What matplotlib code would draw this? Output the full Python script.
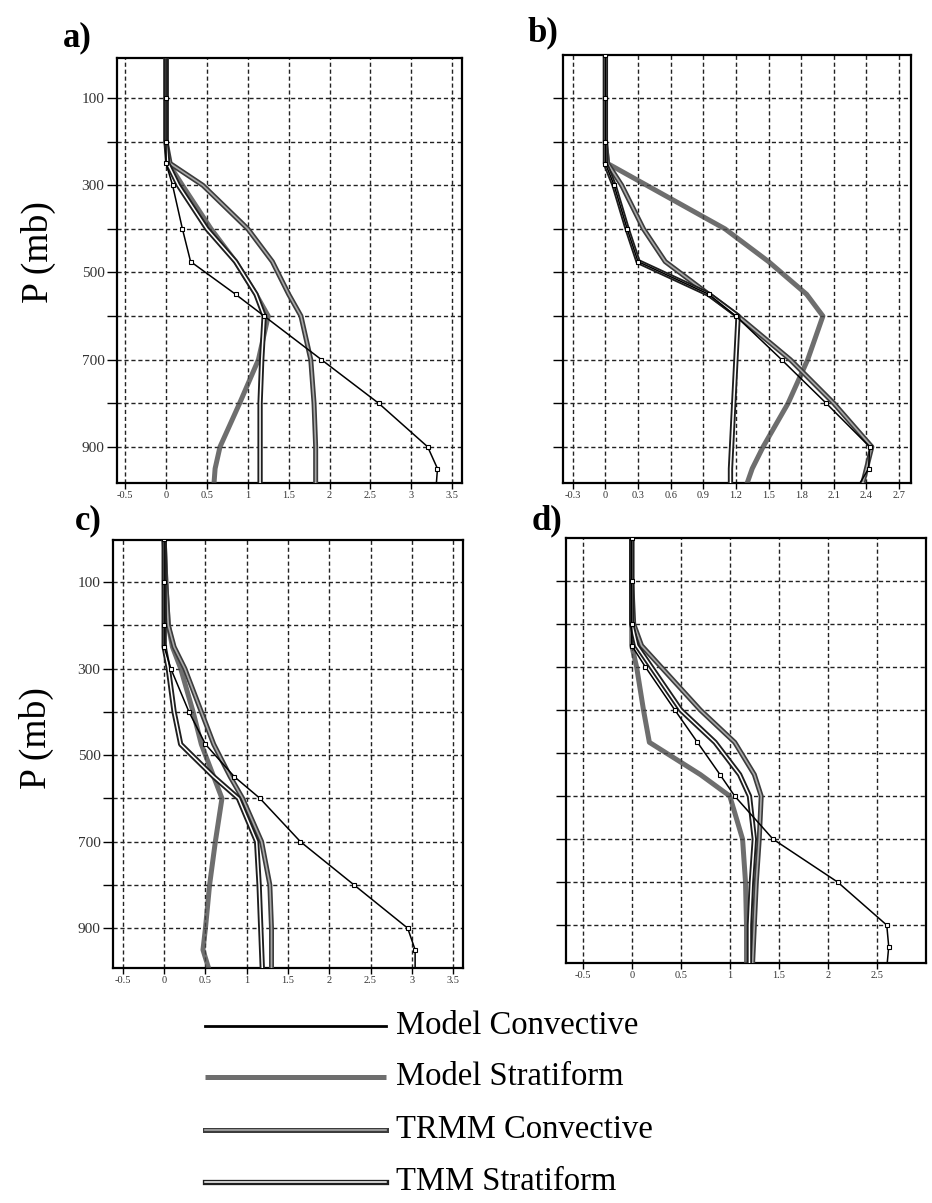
import matplotlib
matplotlib.use('Agg')
import matplotlib.pyplot as plt
import matplotlib.patheffects as pe

plt.rcParams['font.family'] = ['Liberation Serif', 'DejaVu Serif']

# Уровни давления (мб), общие для всех профилей
p_levels = [0, 100, 200, 250, 300, 400, 475, 550, 600, 700, 800, 900, 950, 1000]

# Панель a)
a_model_conv = [0, 0, 0, 0, 0.08, 0.2, 0.3, 0.85, 1.2, 1.9, 2.6, 3.2, 3.32, 3.3]
a_model_strat = [0, 0, 0, 0.03, 0.2, 0.55, 0.85, 1.1, 1.25, 1.13, 0.9, 0.66, 0.6, 0.58]
a_trmm_conv = [0, 0, 0, 0.05, 0.45, 1.0, 1.3, 1.5, 1.65, 1.77, 1.81, 1.83, 1.83, 1.83]
a_trmm_strat = [0, 0, 0, 0.02, 0.15, 0.5, 0.85, 1.1, 1.2, 1.17, 1.15, 1.15, 1.15, 1.15]

# Панель b)
b_model_conv = [0, 0, 0, 0, 0.08, 0.2, 0.3, 0.95, 1.2, 1.62, 2.03, 2.43, 2.42, 2.3]
b_model_strat = [0, 0, 0, 0.02, 0.38, 1.1, 1.5, 1.85, 2.0, 1.86, 1.68, 1.45, 1.35, 1.28]
b_trmm_conv = [0, 0, 0, 0.02, 0.15, 0.35, 0.55, 0.95, 1.22, 1.7, 2.1, 2.45, 2.4, 2.35]
b_trmm_strat = [0, 0, 0, 0, 0.08, 0.2, 0.3, 0.95, 1.22, 1.2, 1.18, 1.16, 1.15, 1.15]

# Панель c)
c_model_conv = [0, 0, 0, 0, 0.08, 0.3, 0.5, 0.85, 1.16, 1.65, 2.3, 2.95, 3.04, 3.04]
c_model_strat = [0, 0.02, 0.05, 0.1, 0.2, 0.35, 0.45, 0.6, 0.7, 0.62, 0.55, 0.5, 0.47, 0.55]
c_trmm_conv = [0, 0.02, 0.05, 0.12, 0.25, 0.45, 0.6, 0.8, 0.95, 1.18, 1.28, 1.3, 1.3, 1.3]
c_trmm_strat = [0, 0, 0, 0, 0.05, 0.12, 0.2, 0.6, 0.9, 1.12, 1.15, 1.17, 1.18, 1.19]

# Панель d)
d_model_conv = [0, 0, 0, 0, 0.14, 0.44, 0.67, 0.9, 1.05, 1.44, 2.1, 2.6, 2.62, 2.6]
d_model_strat = [0, 0, 0, 0, 0.05, 0.12, 0.18, 0.7, 1.0, 1.13, 1.16, 1.17, 1.17, 1.17]
d_trmm_conv = [0, 0, 0.02, 0.1, 0.3, 0.7, 1.05, 1.25, 1.32, 1.3, 1.27, 1.25, 1.24, 1.23]
d_trmm_strat = [0, 0, 0, 0.05, 0.2, 0.5, 0.85, 1.1, 1.2, 1.25, 1.22, 1.2, 1.2, 1.2]

# Подписи осей
ticks_ac = [-0.5, 0, 0.5, 1, 1.5, 2, 2.5, 3, 3.5]
labels_ac = ['-0.5', '0', '0.5', '1', '1.5', '2', '2.5', '3', '3.5']
ticks_b = [-0.3, 0, 0.3, 0.6, 0.9, 1.2, 1.5, 1.8, 2.1, 2.4, 2.7]
labels_b = ['-0.3', '0', '0.3', '0.6', '0.9', '1.2', '1.5', '1.8', '2.1', '2.4', '2.7']
ticks_d = [-0.5, 0, 0.5, 1, 1.5, 2, 2.5]
labels_d = ['-0.5', '0', '0.5', '1', '1.5', '2', '2.5']
p_ticks = [100, 200, 300, 400, 500, 600, 700, 800, 900]
p_labels = ['100', '', '300', '', '500', '', '700', '', '900']

legend_names = ['Model Convective', 'Model Stratiform', 'TRMM Convective', 'TMM Stratiform']


def style(kind):
    if kind == 0:
        return dict(color='black', lw=1.1, marker='s', ms=3, mfc='white', mec='black', mew=0.8, zorder=6)
    if kind == 1:
        return dict(color='#4a4a4a', lw=3.6, alpha=0.8, solid_capstyle='butt', zorder=4)
    if kind == 2:
        return dict(color='#a8a8a8', lw=1.2, zorder=5,
                    path_effects=[pe.Stroke(linewidth=3.6, foreground='#3c3c3c'), pe.Normal()])
    return dict(color='white', lw=1.1, zorder=5,
                path_effects=[pe.Stroke(linewidth=3.8, foreground='#1e1e1e'), pe.Normal()])


def draw_panel(ax, series, xlim, ylim, xticks, xlabels, show_p):
    for i, xs in enumerate(series):
        ax.plot(xs, p_levels, **style(i))
    ax.set_xlim(*xlim)
    ax.set_ylim(*ylim)
    ax.set_xticks(xticks)
    ax.set_xticklabels(xlabels, fontsize=7.5, color='#333333')
    ax.set_yticks(p_ticks)
    if show_p:
        ax.set_yticklabels(p_labels, fontsize=11, color='#333333')
    else:
        ax.set_yticklabels([])
    ax.grid(True, linestyle=(0, (3, 2)), color='#222222', lw=1.0)
    ax.tick_params(axis='y', length=7, width=1, pad=2)
    ax.tick_params(axis='x', length=4, width=1, pad=2)
    for s in ax.spines.values():
        s.set_linewidth(1.6)


fig = plt.figure(figsize=(9.32, 12.03), dpi=100)
W, H = 932, 1203


def box(l, t, r, b):
    return [l / W, 1 - b / H, (r - l) / W, (b - t) / H]


ax_a = fig.add_axes(box(117, 58, 462, 483))
ax_b = fig.add_axes(box(563, 55, 911, 483))
ax_c = fig.add_axes(box(113, 540, 463, 968))
ax_d = fig.add_axes(box(566, 538, 926, 963))

draw_panel(ax_a, [a_model_conv, a_model_strat, a_trmm_conv, a_trmm_strat],
           (-0.6, 3.62), (983, 8), ticks_ac, labels_ac, True)
draw_panel(ax_b, [b_model_conv, b_model_strat, b_trmm_conv, b_trmm_strat],
           (-0.39, 2.81), (983, 1), ticks_b, labels_b, False)
draw_panel(ax_c, [c_model_conv, c_model_strat, c_trmm_conv, c_trmm_strat],
           (-0.62, 3.62), (992, 3), ticks_ac, labels_ac, True)
draw_panel(ax_d, [d_model_conv, d_model_strat, d_trmm_conv, d_trmm_strat],
           (-0.67, 3.0), (988, 0), ticks_d, labels_d, False)

# Метки панелей
for lab, x, y in [('a)', 77, 38), ('b)', 543, 33), ('c)', 88, 521), ('d)', 547, 521)]:
    fig.text(x / W, 1 - y / H, lab, fontsize=25, fontweight='bold', ha='center', va='center')

fig.text(38 / W, 1 - 252 / H, 'P (mb)', fontsize=27, rotation=90, ha='center', va='center')
fig.text(36 / W, 1 - 738 / H, 'P (mb)', fontsize=27, rotation=90, ha='center', va='center')

# Легенда внизу
ax_leg = fig.add_axes([0, 0, 1, 200 / H])
ax_leg.set_xlim(0, W)
ax_leg.set_ylim(1203, 1003)
ax_leg.axis('off')
for i, (name, yy) in enumerate(zip(legend_names, [1026, 1077, 1130, 1182])):
    st = style(i)
    st.pop('marker', None)
    if i == 0:
        st['lw'] = 2.0
    ax_leg.plot([205, 386], [yy, yy], **st)
    ax_leg.text(396, yy, name, fontsize=23.5, va='center', ha='left')

fig.savefig('out.png', dpi=100)
